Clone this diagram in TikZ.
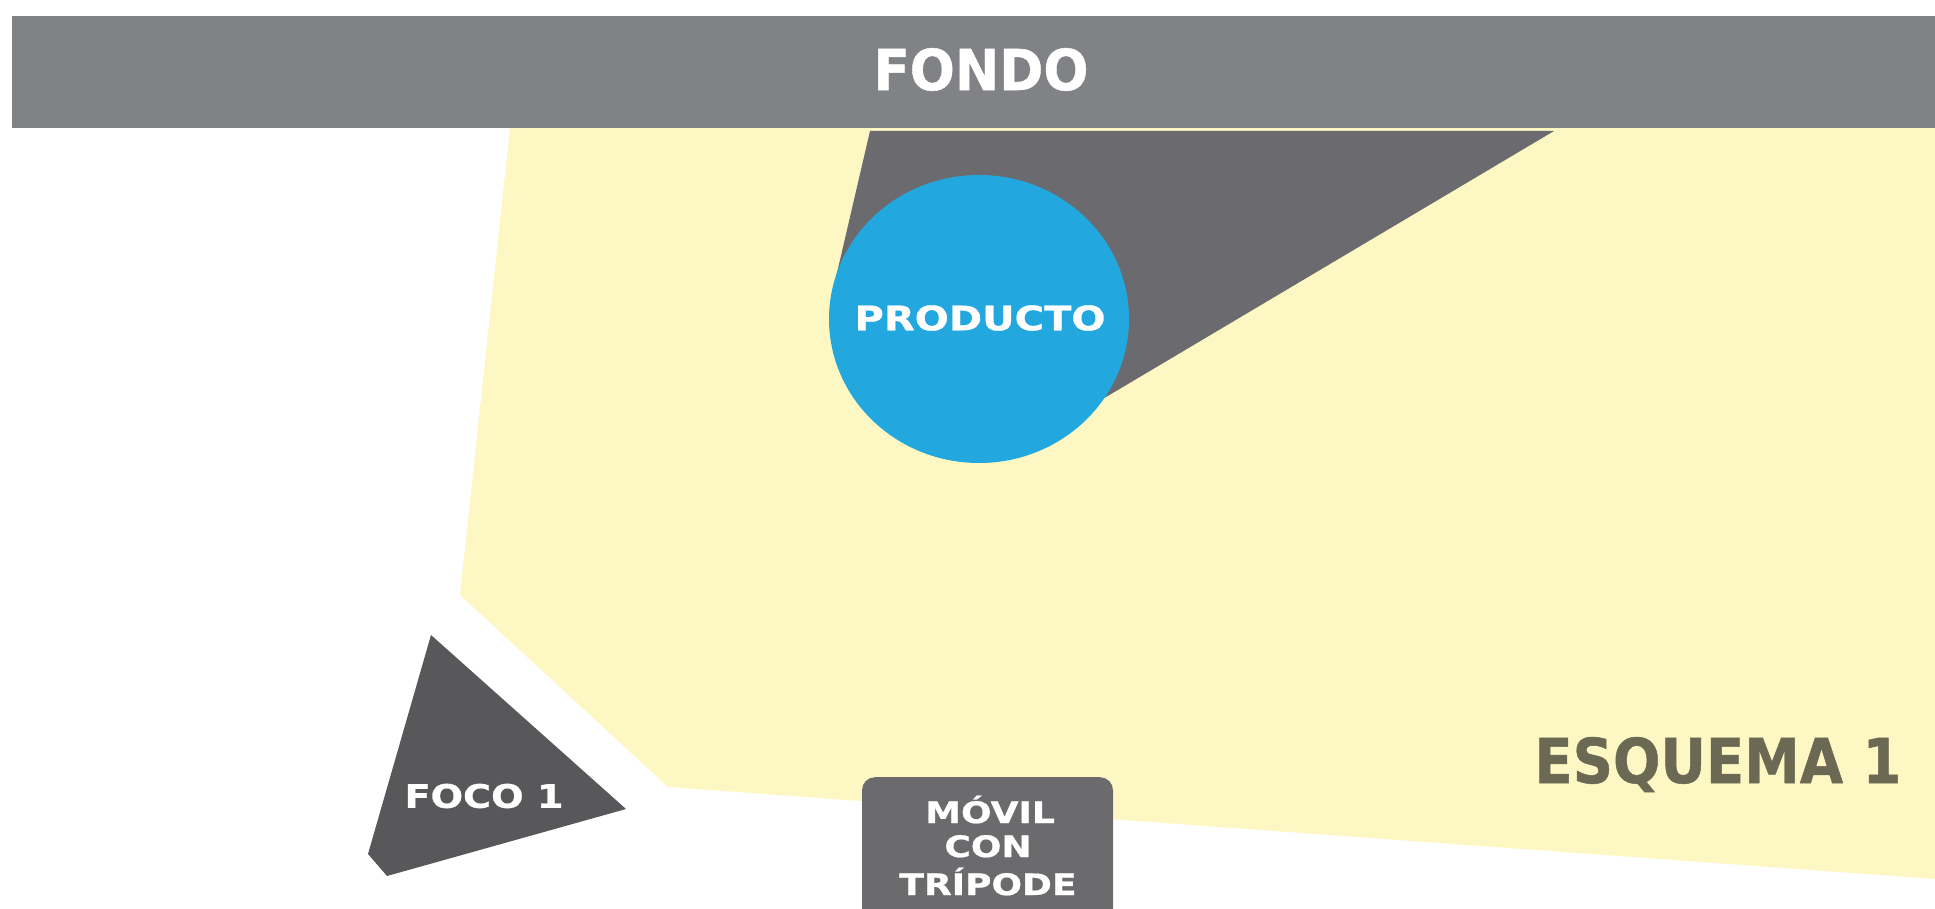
\documentclass[tikz,border=0pt]{standalone}
\usepackage{fontspec}
\setmainfont{DejaVu Sans}[BoldFeatures={FakeBold=0.8}]
\usepackage{graphicx}
\usetikzlibrary{shapes.geometric}
\definecolor{bannergray}{HTML}{818285}
\definecolor{yellowbg}{HTML}{FDF8C3}
\definecolor{shadowgray}{HTML}{6B6B6F}
\definecolor{focogray}{HTML}{58585B}
\definecolor{movilgray}{HTML}{6B6B6E}
\definecolor{prodblue}{HTML}{22A8DF}
\definecolor{esqtext}{HTML}{6B6953}
\begin{document}
\begin{tikzpicture}[x=1pt,y=-1pt,
  lbl/.style={inner sep=0pt, outer sep=0pt, text=white, font=\bfseries},
  movtxt/.style={lbl, anchor=base, font=\fontsize{29.5}{35}\selectfont\bfseries}]
\useasboundingbox (0,0) rectangle (1935,909);
\clip (0,0) rectangle (1935,909);
% lit area
\fill[yellowbg] (510,128) -- (1935,128) -- (1935,879) -- (668,787) -- (460,595) -- cycle;
% banner
\node[rectangle, fill=bannergray, minimum width=1923pt, minimum height=112pt, inner sep=0pt] (fondo) at (973.5,72) {};
\node[lbl] (fondotxt) at (981,69.5) {\resizebox{215pt}{42pt}{FONDO}};
% shadow
\fill[shadowgray] (870,131) -- (1554,131) -- (1101,400) -- (979,319) -- (833,290) -- cycle;
% product
\node[ellipse, fill=prodblue, minimum width=300pt, minimum height=288pt, inner sep=0pt] (producto) at (979,319) {};
\node[lbl] (productotxt) at (980,318) {\resizebox{251pt}{25pt}{PRODUCTO}};
% foco
\fill[focogray] (431,635) -- (626,809) -- (387,876) -- (368,854) -- cycle;
\node[lbl] (foco) at (484,796) {\resizebox{159pt}{24pt}{FOCO 1}};
% movil
\node[rectangle, rounded corners=13pt, fill=movilgray, minimum width=251pt, minimum height=180pt, inner sep=0pt, anchor=north] (movil) at (987.5,777) {};
\node[movtxt] (movilA) at (990,823) {\scalebox{1.22}[1]{MÓVIL}};
\node[movtxt] (movilB) at (988,857) {\scalebox{1.22}[1]{CON}};
\node[movtxt] (movilC) at (988,895) {\scalebox{1.22}[1]{TRÍPODE}};
% esquema
\node[inner sep=0pt, anchor=base, text=esqtext, font=\bfseries] (esquema) at (1718,783) {\resizebox{367pt}{46pt}{ESQUEMA 1}};
\end{tikzpicture}
\end{document}
